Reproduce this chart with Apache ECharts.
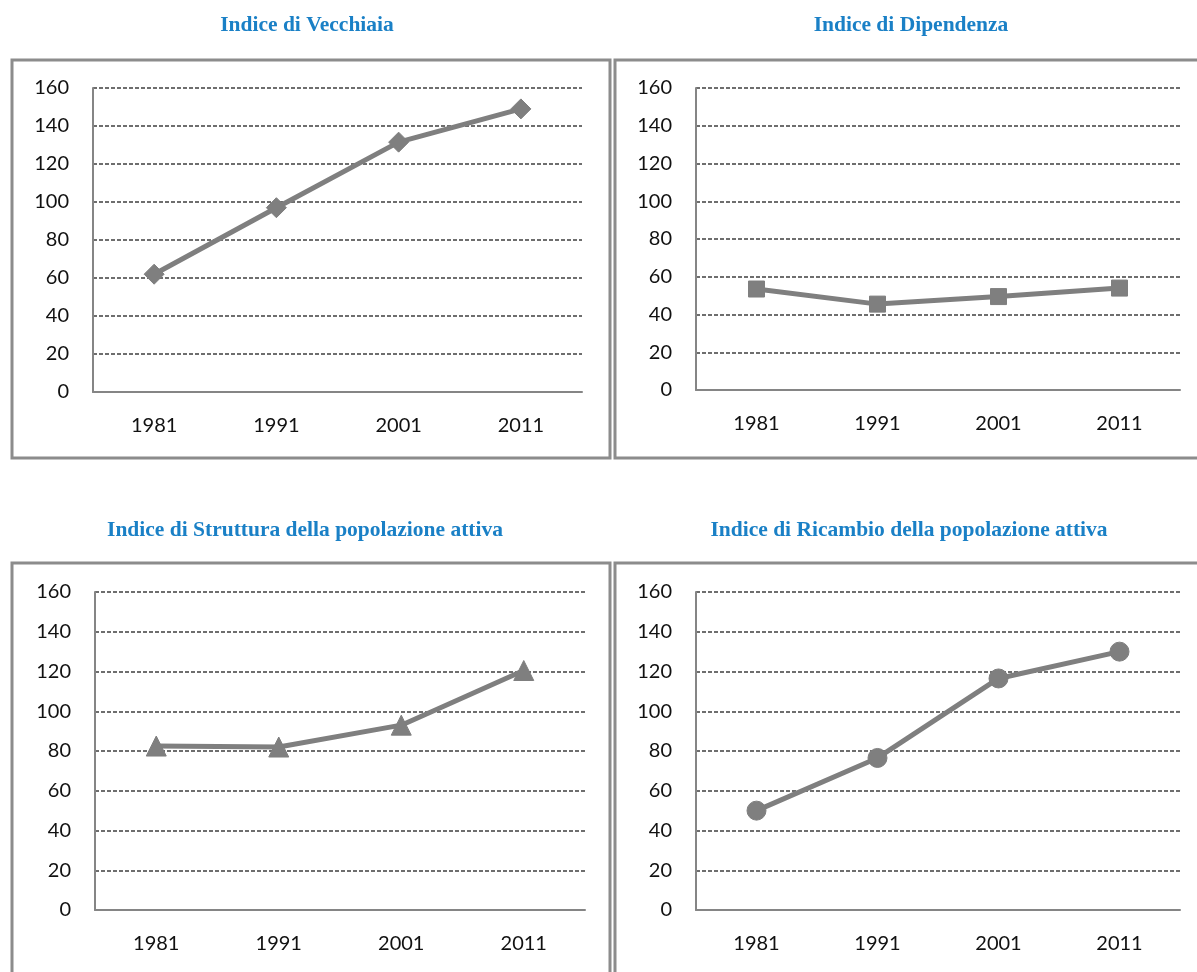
<!DOCTYPE html>
<html>
<head>
<meta charset="utf-8">
<title>Indici demografici</title>
<script src="https://cdn.jsdelivr.net/npm/echarts@6/dist/echarts.min.js"></script>
<style>
  html, body { margin: 0; padding: 0; background: #ffffff; }
  #chart { width: 1197px; height: 972px; }
</style>
</head>
<body>
<div id="chart"></div>
<script>
// Census years on the category axis
const years = ['1981', '1991', '2001', '2011'];

// Index values per census year
const vecchiaia  = [62, 97, 131.5, 149];
const dipendenza = [53.5, 45.5, 49.5, 54];
const struttura  = [82.5, 82, 93, 120.5];
const ricambio   = [50, 76.5, 116.5, 130];

// Value axis range shared by the four panels
const yMin = 0;
const yMax = 160;
const yStep = 20;

const titles = [
  'Indice di Vecchiaia',
  'Indice di Dipendenza',
  'Indice di Struttura della popolazione attiva',
  'Indice di Ricambio della popolazione attiva'
];
const seriesData = [vecchiaia, dipendenza, struttura, ricambio];
const symbols = ['diamond', 'rect', 'triangle', 'circle'];
const symbolSizes = [20, 16, 20, 19];

// Panel layout: plot area, frame box and title anchor for each chart
const panels = [
  { grid: { left: 93,  top: 88,  width: 489, height: 304 }, frame: [12, 60, 598, 398],  title: [307, 25] },
  { grid: { left: 696, top: 88,  width: 484, height: 302 }, frame: [615, 60, 590, 398], title: [911, 25] },
  { grid: { left: 95,  top: 592, width: 490, height: 318 }, frame: [12, 563, 598, 420], title: [305, 530] },
  { grid: { left: 696, top: 592, width: 484, height: 318 }, frame: [615, 563, 590, 420], title: [909, 530] }
];

const lineGray = '#7f7f7f';
const axisGray = '#858585';
const labelFont = 'Lato, "Open Sans", sans-serif';

const chart = echarts.init(document.getElementById('chart'), null, { renderer: 'canvas' });

const option = {
  backgroundColor: '#ffffff',
  animation: false,
  grid: panels.map(p => Object.assign({ containLabel: false }, p.grid)),
  xAxis: panels.map((p, i) => ({
    type: 'category',
    gridIndex: i,
    data: years,
    boundaryGap: true,
    axisTick: { show: false },
    axisLine: { show: true, lineStyle: { color: axisGray, width: 2 } },
    axisLabel: { color: '#111111', fontSize: 20, fontFamily: labelFont, margin: 24 },
    splitLine: { show: false }
  })),
  yAxis: panels.map((p, i) => ({
    type: 'value',
    gridIndex: i,
    min: yMin,
    max: yMax,
    interval: yStep,
    axisTick: { show: false },
    axisLine: { show: true, lineStyle: { color: axisGray, width: 2 } },
    axisLabel: { color: '#111111', fontSize: 20, fontFamily: labelFont, margin: 24 },
    splitLine: { show: true, lineStyle: { color: '#6e6e6e', width: 2, type: [4, 2] } }
  })),
  series: seriesData.map((d, i) => ({
    type: 'line',
    xAxisIndex: i,
    yAxisIndex: i,
    data: d,
    symbol: symbols[i],
    symbolSize: symbolSizes[i],
    showAllSymbol: true,
    lineStyle: { color: lineGray, width: 5 },
    itemStyle: { color: lineGray, borderColor: lineGray },
    z: 5
  })),
  graphic: [].concat(
    panels.map(p => ({
      type: 'rect',
      silent: true,
      z: -1,
      shape: { x: p.frame[0], y: p.frame[1], width: p.frame[2], height: p.frame[3] },
      style: { fill: null, stroke: '#8c8c8c', lineWidth: 3 }
    })),
    panels.map((p, i) => ({
      type: 'text',
      silent: true,
      x: p.title[0],
      y: p.title[1],
      style: {
        text: titles[i],
        fill: '#1a80c6',
        font: 'bold 21.5px "Liberation Serif", "DejaVu Serif", serif',
        textAlign: 'center',
        textVerticalAlign: 'middle'
      }
    }))
  )
};

chart.setOption(option);
</script>
</body>
</html>
